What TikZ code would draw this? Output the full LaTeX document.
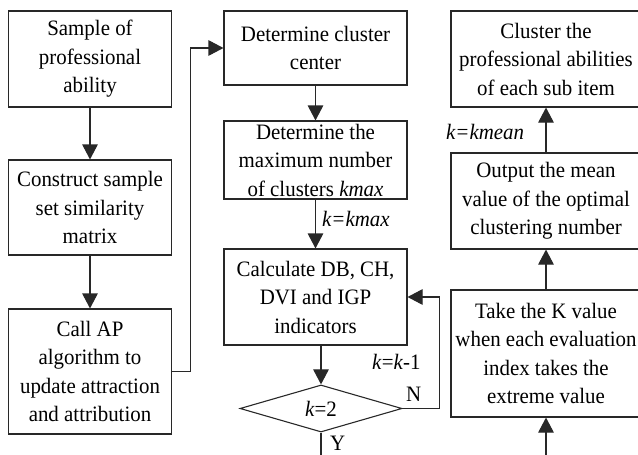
\documentclass[tikz,border=0pt]{standalone}
\usepackage{fontspec}
\setmainfont{Liberation Serif}[FakeStretch=0.95]
\usetikzlibrary{arrows.meta,shapes.geometric}
\definecolor{linegray}{RGB}{40,40,40}

\begin{document}
\begin{tikzpicture}[x=1pt,y=-1pt,
  box/.style={draw=linegray, line width=1.1pt, rectangle, align=center,
    inner sep=0pt, text=black, font=\fontsize{22}{28.5}\selectfont},
  decision/.style={draw=linegray, line width=1.1pt, diamond, inner sep=0pt,
    font=\fontsize{22}{26}\selectfont},
  flow/.style={draw=linegray, line width=1.1pt, -{Triangle[length=15pt,width=15.5pt]}},
  lbl/.style={font=\fontsize{22}{26}\selectfont, inner sep=0pt, anchor=west}]

\clip (0,0) rectangle (638,455);

% left column
\node[box, minimum width=163pt, minimum height=96pt]  (s1) at (90,59)    {Sample of\\professional\\ability};
\node[box, minimum width=163pt, minimum height=95pt]  (s2) at (90,207.5) {Construct sample\\set similarity\\matrix};
\node[box, minimum width=163pt, minimum height=125pt] (s3) at (90,371.5) {Call AP\\algorithm to\\update attraction\\and attribution};

% middle column
\node[box, minimum width=183pt, minimum height=74pt] (m1) at (315.5,48)  {Determine cluster\\center};
\node[box, minimum width=183pt, minimum height=78pt] (m2) at (315.5,160) {Determine the\\maximum number\\of clusters \textit{kmax}};
\node[box, minimum width=183pt, minimum height=96pt] (m3) at (315.5,297) {Calculate DB, CH,\\DVI and IGP\\indicators};
\node[decision, minimum width=162pt, minimum height=45pt] (d) at (321,408.5) {\textit{k}=2};

% right column
\node[box, minimum width=190pt, minimum height=96pt]  (r1) at (546,59)    {Cluster the\\professional abilities\\of each sub item};
\node[box, minimum width=190pt, minimum height=96pt]  (r2) at (546,201)   {Output the mean\\value of the optimal\\clustering number};
\node[box, minimum width=190pt, minimum height=127pt] (r3) at (546,353.5) {Take the K value\\when each evaluation\\index takes the\\extreme value};

% connectors
\draw[flow] (s1) -- (s2);
\draw[flow] (s2) -- (s3);
\draw[flow] (s3.east) -- ++(18,0) |- (m1.west);
\draw[flow] (m1) -- (m2);
\draw[flow] (m2) -- (m3);
\draw[flow] (d.north |- m3.south) -- (d.north);
\draw[flow] (d.east) -- ++(37,0) |- (m3.east);
\draw[flow] (d.south) -- ++(0,40) -| (r3.south);
\draw[flow] (r3) -- (r2);
\draw[flow] (r2) -- (r1);

% labels
\node[lbl] (lmax)  at (322,219) {\textit{k=kmax}};
\node[lbl] (ldec)  at (372,362) {\textit{k}=\textit{k}-1};
\node[lbl] (lno)   at (406,394) {N};
\node[lbl] (lyes)  at (330,443) {Y};
\node[lbl] (lmean) at (446,132) {\textit{k=kmean}};
\end{tikzpicture}
\end{document}
